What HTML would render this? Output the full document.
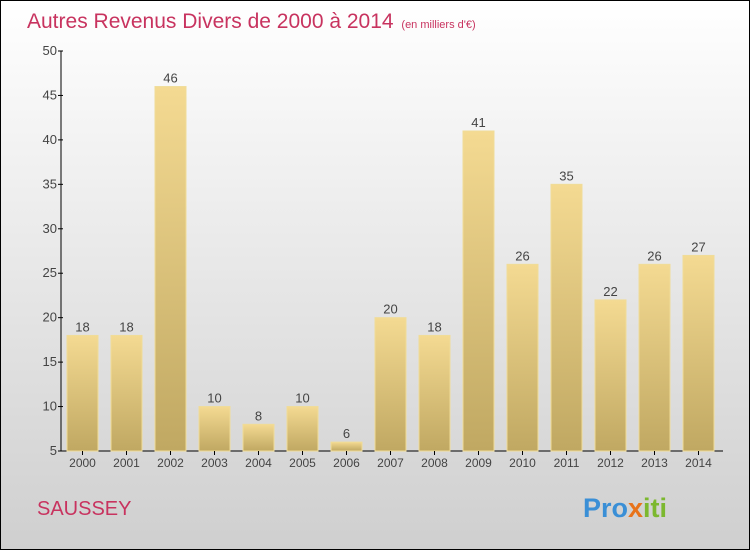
<!DOCTYPE html>
<html><head><meta charset="utf-8"><style>
body{margin:0}
#c{position:relative;width:748px;height:548px;border:1px solid #000;background:linear-gradient(#ffffff,#cfcfcf);font-family:"Liberation Sans",sans-serif;overflow:hidden}
</style></head><body>
<div id="c">
<svg id="s" width="748" height="548" font-family="Liberation Sans, sans-serif">
<defs><linearGradient id="g" x1="0" y1="0" x2="0" y2="1"><stop offset="0" stop-color="#f4da92"/><stop offset="1" stop-color="#c0a862"/></linearGradient></defs>
<text x="26" y="27" font-size="21" fill="#c8335f">Autres Revenus Divers de 2000 à 2014 <tspan font-size="11" dx="2">(en milliers d'€)</tspan></text>
<text x="36" y="514" font-size="20" fill="#c8335f">SAUSSEY</text>
<text x="582" y="516" font-size="27" font-weight="bold"><tspan fill="#3a8fd6">Pro</tspan><tspan fill="#e8731a">x</tspan><tspan fill="#7cb82f">iti</tspan></text>
<g id="plot"></g>
</svg></div>
<script>
const years=["2000","2001","2002","2003","2004","2005","2006","2007","2008","2009","2010","2011","2012","2013","2014"];
const values=[18,18,46,10,8,10,6,20,18,41,26,35,22,26,27];
const ticks=[5,10,15,20,25,30,35,40,45,50];
const ns="http://www.w3.org/2000/svg",p=document.getElementById('plot');
const y=v=>450-(v-5)*400/45, x=i=>66+i*44;
function mk(t,a){const e=document.createElementNS(ns,t);for(const k in a)e.setAttribute(k,a[k]);p.appendChild(e);return e;}
let e=mk('line',{x1:60,y1:50,x2:60,y2:450,stroke:'#000'});

e=mk('line',{x1:60,y1:450,x2:722,y2:450,stroke:'#000'});

ticks.forEach(t=>{let l=mk('line',{x1:57,x2:62,y1:y(t),y2:y(t),stroke:'#000'});

let tx=mk('text',{x:56,y:y(t)+4,'font-size':13,'text-anchor':'end',fill:'#444'});tx.textContent=t;
});
years.forEach((yr,i)=>{const v=values[i];
let r=mk('rect',{x:x(i),y:y(v),width:31,height:450-y(v),fill:'url(#g)',stroke:'#f0dc98','stroke-width':1});

let l=mk('text',{x:x(i)+15.5,y:y(v)-4,'font-size':13,'text-anchor':'middle',fill:'#444'});l.textContent=v;

let tk=mk('line',{x1:x(i)+15.5,x2:x(i)+15.5,y1:450,y2:454,stroke:'#000'});

let t=mk('text',{x:x(i)+15.5,y:466,'font-size':12,'text-anchor':'middle',fill:'#444'});t.textContent=yr;
});
</script>
</body></html>
